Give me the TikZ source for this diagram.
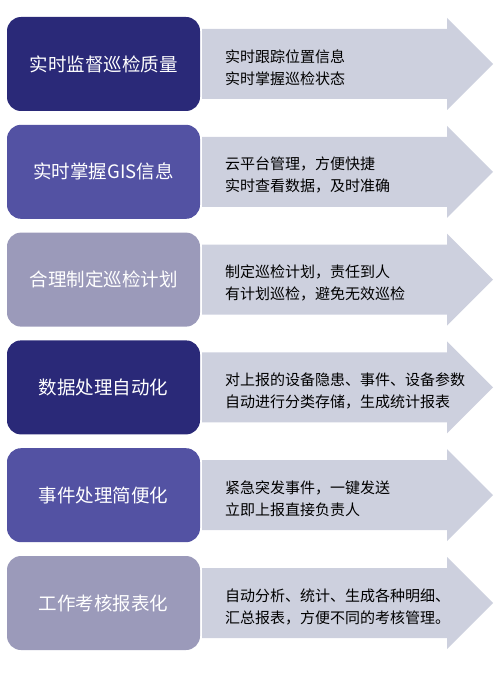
\documentclass[tikz,border=0pt]{standalone}
\usepackage{fontspec}
\usepackage{xcolor}
\usepackage{tikz}
\newfontfamily\cjk{Noto Sans CJK SC}
\definecolor{darkblu}{HTML}{2A2978}
\definecolor{midblu}{HTML}{5352A3}
\definecolor{lightblu}{HTML}{9B9ABA}
\definecolor{arrowgrey}{HTML}{CDD0DE}
\tikzset{
    title/.style={rounded corners=14pt, minimum width=193pt, minimum height=94pt, inner sep=0pt,
        text=white, font=\cjk\fontsize{18.5}{22}\selectfont},
    band/.style={fill=arrowgrey},
    desc/.style={anchor=west, align=left, inner sep=0pt, text=black,
        font=\cjk\fontsize{15}{22}\selectfont}
}
% grey arrow centred at height #1
\newcommand{\bandarrow}[1]{%
  \fill[band] (202,#1-35) -- (447,#1-35) -- (447,#1-46) -- (493,#1)
    -- (447,#1+46) -- (447,#1+35) -- (202,#1+35) -- cycle;}

\begin{document}
\begin{tikzpicture}[x=1pt, y=-1pt]
        \useasboundingbox (0,0) rectangle (500,698);
        \bandarrow{64}
        \bandarrow{171.8}
        \bandarrow{279.6}
        \bandarrow{387.4}
        \bandarrow{495.2}
        \bandarrow{603}
        \node[title, fill=darkblu] (b1) at (103.5,64) {实时监督巡检质量};
        \node[title, fill=midblu] (b2) at (103.5,171.8) {实时掌握GIS信息};
        \node[title, fill=lightblu] (b3) at (103.5,279.6) {合理制定巡检计划};
        \node[title, fill=darkblu] (b4) at (103.5,387.4) {数据处理自动化};
        \node[title, fill=midblu] (b5) at (103.5,495.2) {事件处理简便化};
        \node[title, fill=lightblu] (b6) at (103.5,603) {工作考核报表化};
        \node[desc] (t1) at (225,67.5) {实时跟踪位置信息\\实时掌握巡检状态};
        \node[desc] (t2) at (225,175.3) {云平台管理，方便快捷\\实时查看数据，及时准确};
        \node[desc] (t3) at (225,283.1) {制定巡检计划，责任到人\\有计划巡检，避免无效巡检};
        \node[desc] (t4) at (225,390.9) {对上报的设备隐患、事件、设备参数\\自动进行分类存储，生成统计报表};
        \node[desc] (t5) at (225,498.7) {紧急突发事件，一键发送\\立即上报直接负责人};
        \node[desc] (t6) at (225,606.5) {自动分析、统计、生成各种明细、\\汇总报表，方便不同的考核管理。};
    \end{tikzpicture}
\end{document}
